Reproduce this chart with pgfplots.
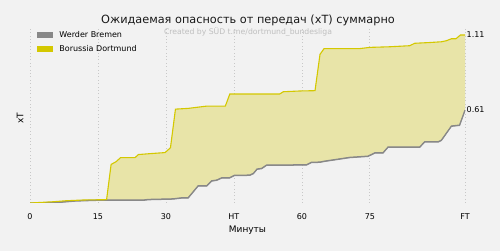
\documentclass[border=0pt]{standalone}
\usepackage{pgfplots}
\usepackage{pgfplotstable}
\pgfplotsset{compat=1.18}
\usepgfplotslibrary{fillbetween}
\usepackage{fontspec}
\setmainfont{DejaVu Sans}
\definecolor{bg}{HTML}{F2F2F2}
\definecolor{bvb}{HTML}{D4C800}
\definecolor{bvbfill}{HTML}{E8E4A8}
\definecolor{wer}{HTML}{888888}
\definecolor{gridc}{HTML}{C8C8C8}
\pagecolor{bg}

\pgfplotstableread{
x y
0 0
5 0.008
8 0.015
12 0.02
16.9 0.022
17.9 0.255
19 0.273
20 0.30
23.2 0.30
23.9 0.32
26.5 0.326
29.8 0.333
31 0.365
32.1 0.62
34.9 0.625
36.8 0.632
39 0.64
43.1 0.64
44.1 0.72
55.1 0.72
55.9 0.735
59.6 0.74
62.9 0.742
64 0.982
64.9 1.02
72.8 1.02
75 1.028
79.4 1.032
83.8 1.039
84.9 1.055
88.2 1.06
90.8 1.065
91.9 1.072
93 1.085
94 1.085
95 1.11
96 1.11
}\bvbdata

\pgfplotstableread{
x y
0 0
6 0.005
10 0.015
15 0.02
25 0.02
26.1 0.024
31.6 0.028
33.5 0.035
34.9 0.035
37.1 0.114
39 0.114
40.1 0.147
41.2 0.152
42.3 0.167
44 0.167
45.1 0.183
48.5 0.185
49.3 0.196
50.1 0.225
51.1 0.229
52.2 0.251
61 0.253
62.1 0.269
64 0.271
65 0.277
70.6 0.302
74.6 0.31
76.1 0.332
77.9 0.332
79 0.37
86 0.37
87.1 0.405
90.1 0.405
90.8 0.416
93 0.509
94.8 0.515
96 0.614
}\werdata

\begin{document}
\begin{tikzpicture}
\path (-30pt,-48pt) rectangle (470pt,203pt);
\node[font=\fontsize{11.3}{13}\selectfont, text=black!90] at (218pt,183pt) {Ожидаемая опасность от передач (xT) суммарно};
\node[font=\fontsize{7.7}{9}\selectfont, text=black!25] at (218pt,171pt) {Created by SÜD t.me/dortmund\_bundesliga};
\begin{axis}[
  at={(0pt,0pt)}, anchor=south west,
  scale only axis, width=435pt, height=175pt,
  xmin=0, xmax=96, ymin=0, ymax=1.156,
  axis line style={draw=none},
  xtick={0,15,30,45,60,75,96},
  xticklabels={0,15,30,HT,60,75,FT},
  ytick=\empty,
  major tick length=0pt,
  xmajorgrids,
  grid style={gridc, dash pattern=on 0.8pt off 2.6pt, line width=0.7pt},
  tick label style={font=\fontsize{8}{9}\selectfont},
  xticklabel style={anchor=center, yshift=-14pt},
  xlabel={Минуты},
  ylabel={xT},
  label style={font=\fontsize{9}{10}\selectfont},
  xlabel style={at={(axis description cs:0.5,-0.154)}, anchor=center},
  ylabel style={at={(axis description cs:-0.023,0.486)}, anchor=center},
  legend style={at={(axis description cs:0.012,1.005)}, anchor=north west,
    draw=none, fill=none, font=\fontsize{8}{9}\selectfont,
    row sep=2.5pt, inner sep=2pt,
    legend cell align=left},
  clip mode=individual,
]
\addplot[name path=bvb, draw=none, forget plot] table[x=x,y=y] {\bvbdata};
\addplot[name path=wer, draw=none, forget plot] table[x=x,y=y] {\werdata};
\addplot[bvbfill, forget plot] fill between[of=bvb and wer];
\addplot[gridc, line width=0.8pt, forget plot] coordinates {(0,0) (96,0)};
\addplot[black!45, line width=1pt, forget plot] table[x=x,y expr=\thisrow{y}-0.003] {\werdata};
\addplot[wer, line width=1.1pt, forget plot] table[x=x,y=y] {\werdata};
\addplot[bvb, line width=1.1pt, forget plot] table[x=x,y=y] {\bvbdata};
\addlegendimage{legend image code/.code={\fill[wer, draw=none] (0pt,-3pt) rectangle (16pt,3pt); \path[draw=none] (0pt,0pt) -- (20pt,0pt);}}
\addlegendentry{Werder Bremen}
\addlegendimage{legend image code/.code={\fill[bvb, draw=none] (0pt,-3pt) rectangle (16pt,3pt); \path[draw=none] (0pt,0pt) -- (20pt,0pt);}}
\addlegendentry{Borussia Dortmund}
\node[anchor=west, font=\fontsize{8}{9}\selectfont, inner sep=1.5pt] at (axis cs:96,1.11) {1.11};
\node[anchor=west, font=\fontsize{8}{9}\selectfont, inner sep=1.5pt] at (axis cs:96,0.614) {0.61};
\end{axis}
\end{tikzpicture}
\end{document}
